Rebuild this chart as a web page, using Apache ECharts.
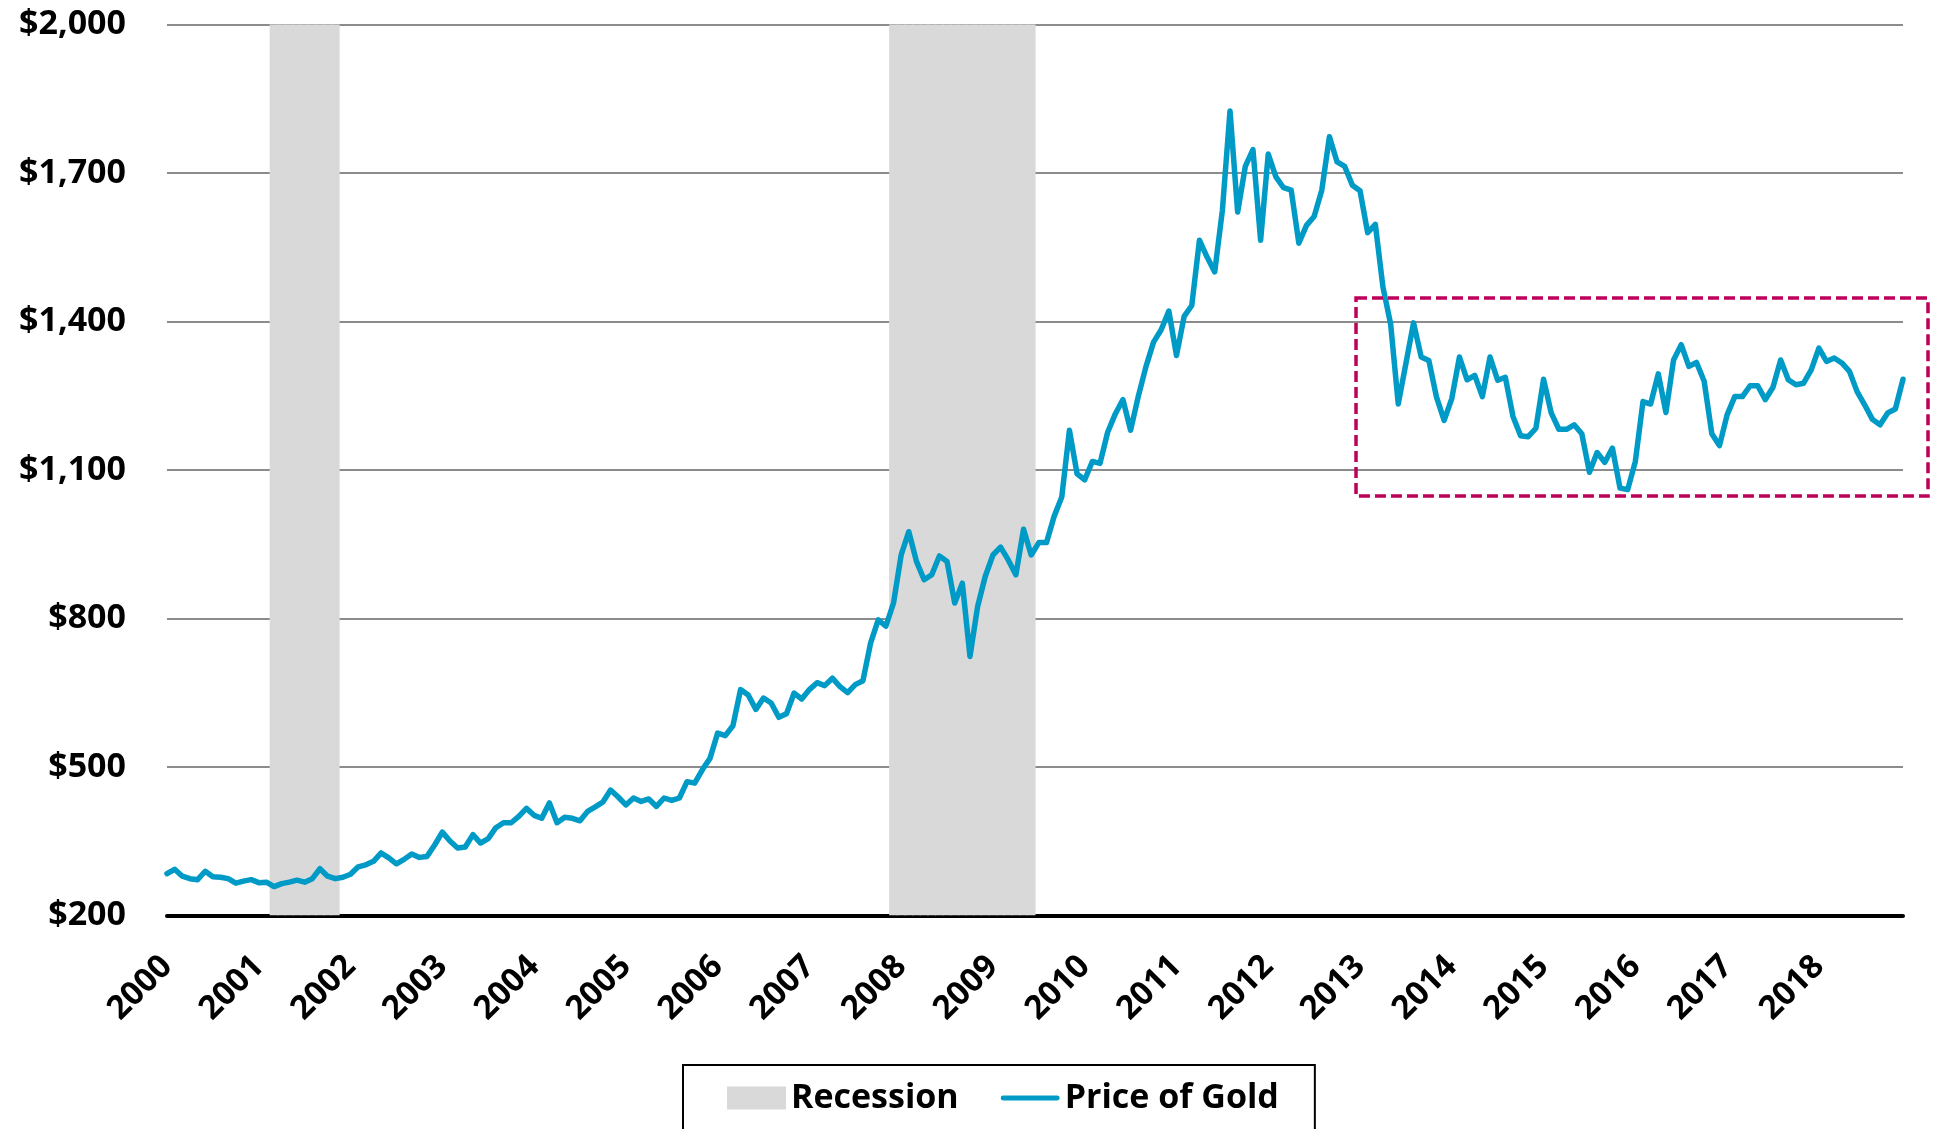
<!DOCTYPE html>
<html>
<head>
<meta charset="utf-8">
<title>Price of Gold</title>
<script src="https://cdn.jsdelivr.net/npm/echarts@6/dist/echarts.min.js"></script>
<style>
  html, body { margin: 0; padding: 0; background: #ffffff; }
  #chart { width: 1937px; height: 1129px; }
</style>
</head>
<body>
<div id="chart"></div>
<script>
const years = [2000, 2001, 2002, 2003, 2004, 2005, 2006, 2007, 2008, 2009,
  2010, 2011, 2012, 2013, 2014, 2015, 2016, 2017, 2018]
const monthNumbers = ['01', '02', '03', '04', '05', '06', '07', '08', '09', '10', '11', '12']
const months = years.flatMap((y) => monthNumbers.map((m) => `${y}-${m}`))

// month-end price, one row per year (Jan..Dec)
const goldPrice = [
  284, 293, 279, 274, 272, 289, 278, 277, 274, 265, 269, 272,
  266, 267, 258, 264, 267, 271, 267, 274, 294, 279, 274, 277,
  283, 298, 302, 309, 326, 316, 304, 313, 324, 317, 319, 342,
  368, 350, 336, 338, 363, 346, 355, 377, 387, 387, 400, 416,
  402, 396, 427, 387, 398, 396, 391, 410, 419, 429, 453, 439,
  423, 437, 430, 435, 420, 437, 432, 437, 470, 467, 494, 517,
  568, 563, 583, 656, 645, 616, 639, 629, 600, 607, 649, 637,
  656, 670, 664, 679, 662, 650, 666, 674, 750, 797, 784, 831,
  928, 975, 915, 878, 888, 926, 915, 831, 871, 723, 824, 885,
  928, 944, 918, 888, 980, 928, 953, 953, 1006, 1045, 1180, 1092,
  1080, 1117, 1113, 1176, 1213, 1242, 1180, 1248, 1308, 1358, 1383, 1421,
  1331, 1410, 1432, 1564, 1530, 1500, 1624, 1825, 1621, 1713, 1747, 1564,
  1738, 1692, 1670, 1665, 1558, 1594, 1612, 1665, 1773, 1722, 1713, 1675,
  1664, 1579, 1596, 1469, 1395, 1233, 1315, 1397, 1328, 1321, 1247, 1200,
  1244, 1328, 1282, 1291, 1248, 1328, 1281, 1287, 1208, 1169, 1167, 1184,
  1283, 1215, 1182, 1182, 1191, 1173, 1095, 1135, 1115, 1144, 1063, 1060,
  1117, 1238, 1233, 1294, 1216, 1322, 1353, 1309, 1317, 1279, 1173, 1149,
  1211, 1248, 1248, 1270, 1270, 1242, 1267, 1322, 1282, 1272, 1275, 1302,
  1346, 1319, 1326, 1316, 1299, 1258, 1231, 1202, 1191, 1215, 1223, 1283
]

const recessionStart = ['2001-03', '2007-12']
const recessionEnd = ['2001-11', '2009-06']

const yMin = 200
const yMax = 2000
const yStep = 300

// dashed box around the 2013-2018 range
const rangeBoxStart = '2013-01'
const rangeBoxEnd = '2018-12'
const rangeBoxLow = 1047
const rangeBoxHigh = 1447

const FONT = "'Open Sans', 'DejaVu Sans', sans-serif"
const GOLD = '#009ac7'

const recessionData = months.map((m) =>
  recessionStart.some((s, k) => m >= s && m <= recessionEnd[k]) ? yMax : null
)

const chart = echarts.init(document.getElementById('chart'))

chart.setOption({
  animation: false,
  backgroundColor: '#ffffff',
  textStyle: { fontFamily: FONT, fontWeight: 'bold', color: '#000000' },
  grid: {
    left: 167,
    right: 34,
    top: 24.4,
    bottom: 213.7,
    containLabel: false,
    outerBoundsMode: 'none',
  },
  legend: {
    left: 683,
    top: 1065,
    orient: 'horizontal',
    padding: [16, 36, 40, 44],
    borderColor: '#000000',
    borderWidth: 2,
    itemWidth: 59,
    itemHeight: 23,
    itemGap: 42,
    textStyle: {
      fontFamily: FONT,
      fontWeight: 'bold',
      fontSize: 34,
      lineHeight: 34,
      color: '#000000',
    },
    data: [
      { name: 'Recession', icon: 'rect' },
      {
        name: 'Price of Gold',
        icon: 'path://M2.5,0 L57.5,0 A2.5,2.5 0 0 1 57.5,5 L2.5,5 A2.5,2.5 0 0 1 2.5,0 Z',
        itemStyle: { color: GOLD },
      },
    ],
  },
  xAxis: {
    type: 'category',
    data: months,
    boundaryGap: false,
    axisLine: { show: true, onZero: false, lineStyle: { color: '#000000', width: 4 } },
    axisTick: { show: false },
    splitLine: { show: false },
    axisLabel: {
      interval: (idx) => idx % 12 === 0,
      formatter: (value) => value.slice(0, 4),
      rotate: 45,
      margin: 46,
      fontFamily: FONT,
      fontWeight: 'bold',
      fontSize: 33,
      color: '#000000',
    },
  },
  yAxis: {
    type: 'value',
    min: yMin,
    max: yMax,
    interval: yStep,
    axisLine: { show: false },
    axisTick: { show: false },
    splitLine: { lineStyle: { color: '#8c8c8c', width: 2 } },
    axisLabel: {
      margin: 41,
      fontFamily: FONT,
      fontWeight: 'bold',
      fontSize: 34,
      color: '#000000',
      formatter: (v) => '$' + v.toLocaleString('en-US'),
    },
  },
  series: [
    {
      name: 'Recession',
      type: 'bar',
      data: recessionData,
      barWidth: '115%',
      itemStyle: { color: '#d9d9d9' },
      silent: true,
    },
    {
      name: 'Price of Gold',
      type: 'line',
      data: goldPrice,
      symbol: 'none',
      lineStyle: { color: GOLD, width: 5.5, join: 'round', cap: 'round' },
      itemStyle: { color: GOLD },
      z: 5,
    },
  ],
})

const boxTopLeft = chart.convertToPixel({ gridIndex: 0 }, [rangeBoxStart, rangeBoxHigh])
const boxBottomRight = chart.convertToPixel({ gridIndex: 0 }, [rangeBoxEnd, rangeBoxLow])

chart.setOption({
  graphic: [
    {
      type: 'rect',
      z: 10,
      shape: {
        x: boxTopLeft[0] - 4,
        y: boxTopLeft[1],
        width: boxBottomRight[0] + 25 - (boxTopLeft[0] - 4),
        height: boxBottomRight[1] - boxTopLeft[1],
      },
      style: {
        fill: null,
        stroke: '#bf005a',
        lineWidth: 3.5,
        lineDash: [11, 5],
      },
    },
  ],
})
</script>
</body>
</html>
